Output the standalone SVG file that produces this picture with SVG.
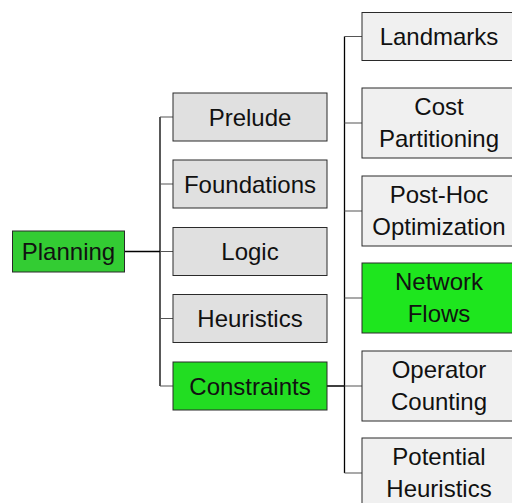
<svg xmlns="http://www.w3.org/2000/svg" width="512" height="503" viewBox="0 0 512 503">
<style>
  .box { stroke: #2a2a2a; stroke-width: 1; }
  .mid { fill: #e0e0e0; }
  .leaf { fill: #f0f0f0; }
  .root { fill: #33cc33; }
  .hl { fill: #22dd22; }
  .hl2 { fill: #1ee61e; }
  text { font-family: "Liberation Sans", Arial, sans-serif; font-size: 24px; fill: #111; text-anchor: middle; }
  .trunk { stroke: #000; stroke-width: 1.3; fill: none; }
  .branch { stroke: #555; stroke-width: 1.2; fill: none; }
</style>
<rect width="512" height="503" fill="#ffffff"/>
<g id="connectors">
  <path class="trunk" d="M124 251.5 H160 M160 117 V386 M327 386 H344.5 M344.5 36.5 V473"/>
  <path class="branch" d="M160 117 H173 M160 184 H173 M160 251.5 H173 M160 318.5 H173 M160 386 H173"/>
  <path class="branch" d="M344.5 36.5 H362 M344.5 123 H362 M344.5 211 H362 M344.5 298 H362 M344.5 386 H362 M344.5 473 H362"/>
</g>
<g id="planning"><rect class="box root" x="12.5" y="231" width="112" height="41"/><text x="68.5" y="260">Planning</text></g>
<g id="prelude"><rect class="box mid" x="173" y="93" width="154" height="48"/><text x="250" y="125.5">Prelude</text></g>
<g id="foundations"><rect class="box mid" x="173" y="160" width="154" height="48"/><text x="250" y="192.5">Foundations</text></g>
<g id="logic"><rect class="box mid" x="173" y="227.5" width="154" height="48"/><text x="250" y="260">Logic</text></g>
<g id="heuristics"><rect class="box mid" x="173" y="294.5" width="154" height="48"/><text x="250" y="327">Heuristics</text></g>
<g id="constraints"><rect class="box hl" x="173" y="362" width="154" height="48"/><text x="250" y="394.5">Constraints</text></g>
<g id="landmarks"><rect class="box leaf" x="362" y="12.5" width="156" height="48"/><text x="439" y="45">Landmarks</text></g>
<g id="cost-partitioning"><rect class="box leaf" x="362" y="88" width="156" height="70"/><text x="439" y="114.5">Cost</text><text x="439" y="146.5">Partitioning</text></g>
<g id="post-hoc"><rect class="box leaf" x="362" y="176" width="156" height="70"/><text x="439" y="202.5">Post-Hoc</text><text x="439" y="234.5">Optimization</text></g>
<g id="network-flows"><rect class="box hl2" x="362" y="263" width="156" height="70"/><text x="439" y="289.5">Network</text><text x="439" y="321.5">Flows</text></g>
<g id="operator-counting"><rect class="box leaf" x="362" y="351" width="156" height="70"/><text x="439" y="377.5">Operator</text><text x="439" y="409.5">Counting</text></g>
<g id="potential-heuristics"><rect class="box leaf" x="362" y="438" width="156" height="70"/><text x="439" y="464.5">Potential</text><text x="439" y="496.5">Heuristics</text></g>
</svg>
